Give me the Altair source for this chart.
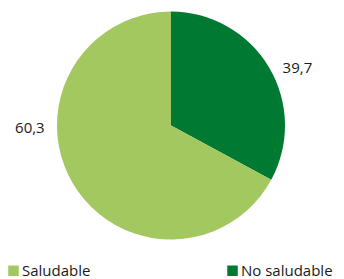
import altair as alt
import pandas as pd

categories = ["No saludable", "Saludable"]
# slice sizes as drawn in the picture (percent of the circle)
shares = [32.9, 67.1]
labels = ["39,7", "60,3"]
order = [0, 1]

df = pd.DataFrame({"cat": categories, "value": shares, "label": labels, "ord": order})

theta_scale = alt.Scale(domain=[0, 100])
cx, cy = 163, 117.5  # pie centre inside the plot area

color = alt.Color(
    "cat:N",
    scale=alt.Scale(domain=["Saludable", "No saludable"], range=["#a3c85f", "#007a33"]),
    legend=alt.Legend(
        title=None,
        orient="none",
        direction="horizontal",
        legendX=-2,
        legendY=255,
        symbolType="square",
        symbolSize=110,
        symbolStrokeWidth=0,
        symbolOpacity=1,
        labelFont="Open Sans",
        labelFontSize=15,
        labelColor="#1a1a1a",
        labelOffset=1,
        columnPadding=134,
    ),
)

base = (
    alt.Chart(df)
    .transform_stack(stack="value", groupby=[], as_=["v0", "v1"], sort=[alt.SortField("ord")])
    .transform_calculate(mid="(datum.v0 + datum.v1) / 2")
)

pie = base.mark_arc(outerRadius=114, stroke=None).encode(
    theta=alt.Theta("v0:Q", scale=theta_scale),
    theta2="v1:Q",
    color=color,
    x=alt.value(cx),
    y=alt.value(cy),
)

text_style = dict(font="Open Sans", fontSize=15, color="#1a1a1a")

t_dark = (
    base.transform_filter(alt.datum.cat == "No saludable")
    .mark_text(radius=139, dx=7, dy=14, **text_style)
    .encode(theta=alt.Theta("mid:Q", scale=theta_scale), text="label:N", x=alt.value(cx), y=alt.value(cy))
)

t_light = (
    base.transform_filter(alt.datum.cat == "Saludable")
    .mark_text(radius=141, dx=-20, dy=-70, **text_style)
    .encode(theta=alt.Theta("mid:Q", scale=theta_scale), text="label:N", x=alt.value(cx), y=alt.value(cy))
)

chart = (
    alt.layer(pie, t_dark, t_light)
    .properties(
        width=328,
        height=235,
        autosize=alt.AutoSizeParams(type="none"),
        padding={"left": 0, "top": 0, "right": 0, "bottom": 36},
    )
    .configure_view(stroke=None)
)

chart.save("out.html", embed_options={"renderer": "svg", "actions": False})
